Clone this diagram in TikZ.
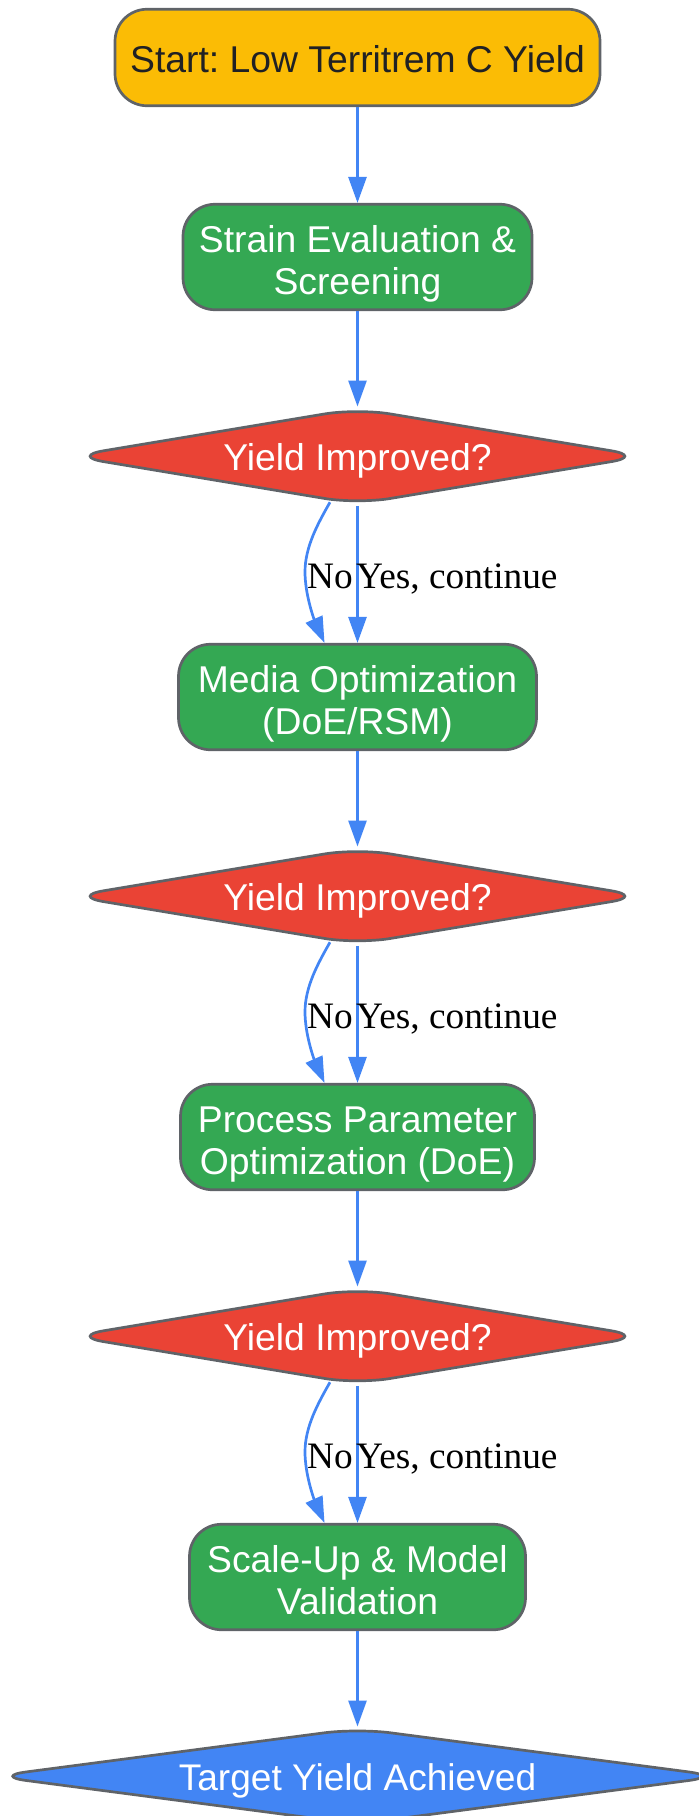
\documentclass[tikz,border=0pt]{standalone}
\usepackage{fontspec}
\setmainfont{Liberation Sans}
\newfontfamily\lblfont{Liberation Serif}
\usetikzlibrary{shapes.geometric,arrows.meta,calc}
\definecolor{gyellow}{HTML}{FBBC05}
\definecolor{ggreen}{HTML}{34A853}
\definecolor{gred}{HTML}{EA4335}
\definecolor{gblue}{HTML}{4285F4}
\definecolor{gborder}{HTML}{5F6368}
\definecolor{gdark}{HTML}{202124}
\frenchspacing
% text with its baseline a set distance below the node centre
\newcommand\oneline[1]{\raisebox{-14.5pt}[0pt][0pt]{#1}}
\newcommand\twolines[2]{\raisebox{5pt}[0pt][0pt]{\begin{tabular}[t]{@{}c@{}}#1\\#2\end{tabular}}}
\tikzset{
  x=1pt,y=-1pt,
  box/.style={draw=gborder,line width=2.7pt,rectangle,rounded corners=32pt,inner sep=0pt,text=white,
    font=\fontsize{37.3}{42}\selectfont,minimum height=#1},
  box/.default=105.5pt,
  decide/.style={draw=gborder,line width=2.7pt,diamond,rounded corners=33pt,inner sep=0pt,aspect=5.94,text=white,
    font=\fontsize{37.3}{42}\selectfont,minimum width=574pt,minimum height=96.6pt},
  flow/.style={draw=gblue,line width=2.7pt,-{Triangle[length=26pt,width=18pt]}},
  lbl/.style={anchor=base west,inner sep=0pt,text=black,font=\lblfont\fontsize{37.3}{42}\selectfont}
}
\begin{document}
\begin{tikzpicture}
\useasboundingbox (0,0) rectangle (699,1816);
\node[box=96.5pt,fill=gyellow,text=gdark,minimum width=485pt] (start) at (357.5,57.5) {\oneline{Start: Low Territrem C Yield}};
\node[box,fill=ggreen,minimum width=349pt] (strain) at (357.5,257) {\twolines{Strain Evaluation \&}{Screening}};
\node[decide,fill=gred] (d1) at (357.5,456.2) {\oneline{Yield Improved?}};
\node[box,fill=ggreen,minimum width=358pt] (media) at (357.5,697) {\twolines{Media Optimization}{(DoE/RSM)}};
\node[decide,fill=gred] (d2) at (357.5,896.2) {\oneline{Yield Improved?}};
\node[box,fill=ggreen,minimum width=354pt] (proc) at (357.5,1137) {\twolines{Process Parameter}{Optimization (DoE)}};
\node[decide,fill=gred] (d3) at (357.5,1336.2) {\oneline{Yield Improved?}};
\node[box,fill=ggreen,minimum width=336pt] (scale) at (357.5,1577) {\twolines{Scale-Up \& Model}{Validation}};
\node[decide,aspect=7.55,minimum width=729pt,minimum height=96.6pt,fill=gblue,font=\fontsize{37.1}{42}\selectfont] (target) at (357.5,1776.2) {\oneline{Target Yield Achieved}};

\draw[flow] (start.south) -- (strain.north);
\draw[flow] (strain.south) -- (d1.north);
\draw[flow] (media.south) -- (d2.north);
\draw[flow] (proc.south) -- (d3.north);
\draw[flow] (scale.south) -- (target.north);
\foreach \d/\n in {d1/media,d2/proc,d3/scale}{
  \draw[flow] (\d.south) -- (\n.north);
  \draw[flow] ($(\d.south)+(-27.5,-3.6)$) .. controls +(-12,21) and +(0,-25) ..
     ($(\d.south)+(-52.5,66)$) .. controls +(0,22) and +(-11,-25) ..
     ($(\n.north)+(-33,0)$);
}
\node[lbl] (no1) at (307,588.5) {No};
\node[lbl] (yes1) at (356,588.5) {Yes, continue};
\node[lbl] (no2) at (307,1028.5) {No};
\node[lbl] (yes2) at (356,1028.5) {Yes, continue};
\node[lbl] (no3) at (307,1468.5) {No};
\node[lbl] (yes3) at (356,1468.5) {Yes, continue};
\end{tikzpicture}
\end{document}
